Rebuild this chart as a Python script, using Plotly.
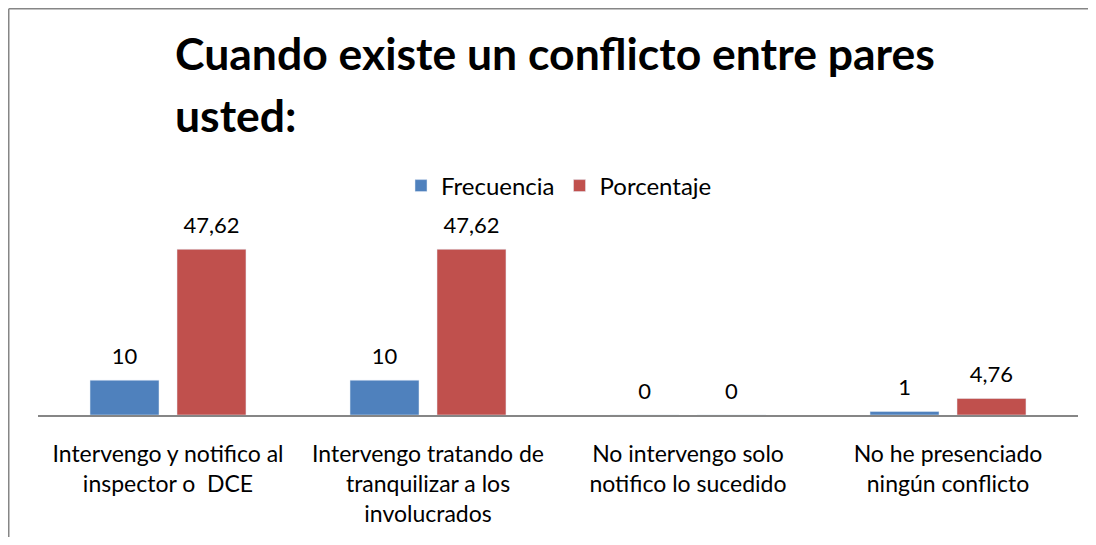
import plotly.graph_objects as go

categories = [
    "Intervengo y notifico al<br>inspector o  DCE",
    "Intervengo tratando de<br>tranquilizar a los<br>involucrados",
    "No intervengo solo<br>notifico lo sucedido",
    "No he presenciado<br>ningún conflicto",
]
frecuencia = [10, 10, 0, 1]
porcentaje = [47.62, 47.62, 0, 4.76]
frec_labels = ["10", "10", "0", "1"]
porc_labels = ["47,62", "47,62", "0", "4,76"]
title_lines = ["Cuando existe un conflicto entre pares", "usted:"]

FONT = "Lato, Carlito, Calibri, sans-serif"
W, H = 1088, 529
L, R, T, B = 30, 18, 233, 122
PW, PH = W - L - R, H - T - B


def px(x):
    return (x - L) / PW


def py(y):
    return (H - B - y) / PH


fig = go.Figure()
fig.add_trace(go.Bar(x=categories, y=frecuencia, name="Frecuencia", marker_color="#4F81BD"))
fig.add_trace(go.Bar(x=categories, y=porcentaje, name="Porcentaje", marker_color="#C0504D"))

# value labels
for vals, labs in [(frecuencia, frec_labels), (porcentaje, porc_labels)]:
    fig.add_trace(go.Scatter(
        x=categories, y=vals, text=labs, mode="markers+text", textposition="top center",
        marker=dict(size=16, opacity=0), textfont=dict(size=22, color="#000000"),
        showlegend=False, hoverinfo="skip", cliponaxis=False,
    ))

# chart frame: only top and left edges are visible in the original
frame = dict(color="#868686", width=1.5)

fig.update_layout(
    width=W, height=H,
    margin=dict(l=L, r=R, t=T, b=B, autoexpand=False),
    paper_bgcolor="white", plot_bgcolor="white",
    font=dict(family=FONT, size=23, color="#000000"),
    barmode="group", bargap=0.331, bargroupgap=0.207,
    scattermode="group", scattergap=0.331,
    legend=dict(orientation="h", x=px(551), xanchor="center", y=py(178), yanchor="middle",
                font=dict(size=24), itemwidth=30, traceorder="normal"),
    xaxis=dict(showline=True, linecolor="#868686", linewidth=1.5, ticks="",
               tickfont=dict(size=23), showgrid=False, ticklabelstandoff=18),
    yaxis=dict(range=[0, 50], visible=False),
    annotations=[
        dict(text="<b>%s</b>" % title_lines[0], xref="paper", yref="paper",
             x=px(165), y=py(60 - 16), xanchor="left", yanchor="middle", align="left",
             showarrow=False, font=dict(size=44.5, family=FONT, color="#000000")),
        dict(text="<b>%s</b>" % title_lines[1], xref="paper", yref="paper",
             x=px(165), y=py(122 - 16), xanchor="left", yanchor="middle", align="left",
             showarrow=False, font=dict(size=44.5, family=FONT, color="#000000")),
    ],
    shapes=[
        dict(type="line", xref="paper", yref="paper",
             x0=px(0.75), x1=px(W), y0=py(0.75), y1=py(0.75), line=frame),
        dict(type="line", xref="paper", yref="paper",
             x0=px(0.75), x1=px(0.75), y0=py(0.75), y1=py(H), line=frame),
    ],
)

fig.write_html("out.html", config={"displayModeBar": False})
